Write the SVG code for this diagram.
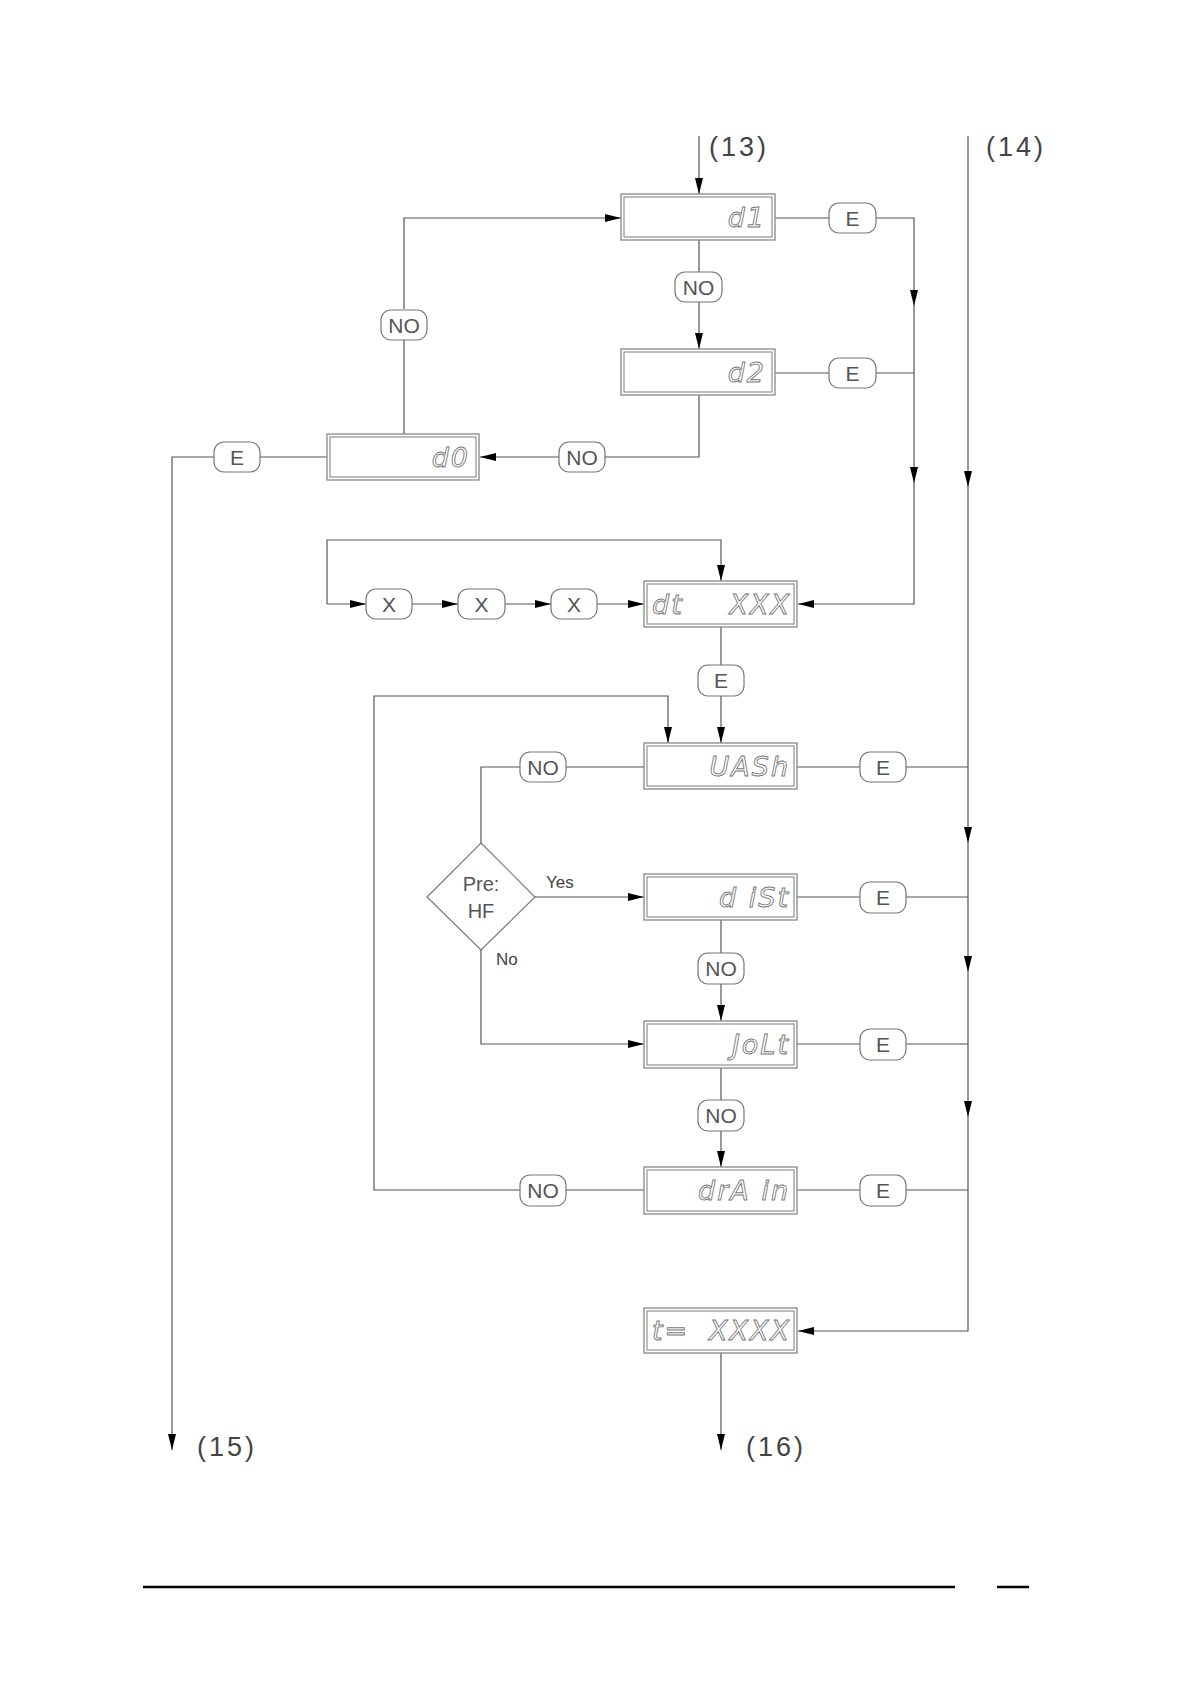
<svg xmlns="http://www.w3.org/2000/svg" width="1190" height="1684" viewBox="0 0 1190 1684">
<style>
.bg{fill:#fff}
.c{fill:none;stroke:#555;stroke-width:1.2}
.bo{fill:#fff;stroke:#888;stroke-width:1.3}
.bi{fill:none;stroke:#888;stroke-width:1.1}
.lb{fill:#fff;stroke:#777;stroke-width:1.2}
.lt{font-family:"Liberation Sans",Arial,sans-serif;font-size:21px;fill:#555;text-anchor:middle}
.seg{font-family:"DejaVu Sans","Liberation Sans",sans-serif;font-size:27px;font-style:italic;fill:#fff;stroke:#777;stroke-width:0.9;white-space:pre;letter-spacing:2px}
.ref{font-family:"Liberation Sans",Arial,sans-serif;font-size:27px;fill:#444;letter-spacing:3px;text-anchor:middle}
.dt{font-family:"Liberation Sans",Arial,sans-serif;font-size:20px;fill:#555;text-anchor:middle}
.sm{font-family:"Liberation Sans",Arial,sans-serif;font-size:17px;fill:#444}
</style>
<defs>
<marker id="ar" markerUnits="userSpaceOnUse" markerWidth="17" markerHeight="9" refX="16" refY="4" orient="auto">
<path d="M0,0 L16,4 L0,8 z" fill="#000"/>
</marker>
</defs>
<rect class="bg" x="0" y="0" width="1190" height="1684"/>

<g id="connectors">
<path class="c" d="M699 136 V194" marker-end="url(#ar)"/>
<path class="c" d="M699 240 V272"/>
<path class="c" d="M699 302 V349" marker-end="url(#ar)"/>
<path class="c" d="M775 218 H829"/>
<path class="c" d="M876 218 H914 V306" marker-end="url(#ar)"/>
<path class="c" d="M914 306 V483" marker-end="url(#ar)"/>
<path class="c" d="M914 483 V604 H798" marker-end="url(#ar)"/>
<path class="c" d="M775 373 H829"/>
<path class="c" d="M876 373 H914"/>
<path class="c" d="M699 395 V457 H605"/>
<path class="c" d="M559 457 H480" marker-end="url(#ar)"/>
<path class="c" d="M404 434 V340"/>
<path class="c" d="M404 309 V218 H621" marker-end="url(#ar)"/>
<path class="c" d="M327 457 H260"/>
<path class="c" d="M214 457 H172 V1450" marker-end="url(#ar)"/>
<path class="c" d="M968 136 V487" marker-end="url(#ar)"/>
<path class="c" d="M968 487 V843" marker-end="url(#ar)"/>
<path class="c" d="M968 843 V972" marker-end="url(#ar)"/>
<path class="c" d="M968 972 V1117" marker-end="url(#ar)"/>
<path class="c" d="M968 1117 V1331 H798" marker-end="url(#ar)"/>
<path class="c" d="M327 604 V540 H721 V581" marker-end="url(#ar)"/>
<path class="c" d="M327 604 H366" marker-end="url(#ar)"/>
<path class="c" d="M412 604 H458" marker-end="url(#ar)"/>
<path class="c" d="M505 604 H551" marker-end="url(#ar)"/>
<path class="c" d="M597 604 H644" marker-end="url(#ar)"/>
<path class="c" d="M721 627 V665"/>
<path class="c" d="M721 696 V743" marker-end="url(#ar)"/>
<path class="c" d="M644 1190 H566"/>
<path class="c" d="M520 1190 H374 V696 H668 V743" marker-end="url(#ar)"/>
<path class="c" d="M797 767 H860"/>
<path class="c" d="M906 767 H968"/>
<path class="c" d="M644 767 H566"/>
<path class="c" d="M520 767 H481 V843"/>
<path class="c" d="M535 897 H644" marker-end="url(#ar)"/>
<path class="c" d="M481 950 V1044 H644" marker-end="url(#ar)"/>
<path class="c" d="M797 897 H860"/>
<path class="c" d="M906 897 H968"/>
<path class="c" d="M721 920 V953"/>
<path class="c" d="M721 984 V1021" marker-end="url(#ar)"/>
<path class="c" d="M797 1044 H860"/>
<path class="c" d="M906 1044 H968"/>
<path class="c" d="M721 1068 V1100"/>
<path class="c" d="M721 1131 V1167" marker-end="url(#ar)"/>
<path class="c" d="M797 1190 H860"/>
<path class="c" d="M906 1190 H968"/>
<path class="c" d="M721 1353 V1450" marker-end="url(#ar)"/>
</g>

<g id="ref13"><text class="ref" x="739" y="156">(13)</text></g>
<g id="ref14"><text class="ref" x="1016" y="156">(14)</text></g>
<g id="ref15"><text class="ref" x="227" y="1456">(15)</text></g>
<g id="ref16"><text class="ref" x="776" y="1456">(16)</text></g>

<g id="d1"><rect class="bo" x="621" y="194" width="154" height="46"/><rect class="bi" x="624" y="197" width="148" height="40"/><text class="seg" x="766" y="227" text-anchor="end">d1</text></g>
<g id="d2"><rect class="bo" x="621" y="349" width="154" height="46"/><rect class="bi" x="624" y="352" width="148" height="40"/><text class="seg" x="766" y="382" text-anchor="end">d2</text></g>
<g id="d0"><rect class="bo" x="327" y="434" width="152" height="46"/><rect class="bi" x="330" y="437" width="146" height="40"/><text class="seg" x="470" y="467" text-anchor="end">d0</text></g>
<g id="dt"><rect class="bo" x="644" y="581" width="153" height="46"/><rect class="bi" x="647" y="584" width="147" height="40"/><text class="seg" x="652" y="614">dt</text><text class="seg" x="791" y="614" text-anchor="end">XXX</text></g>
<g id="wash"><rect class="bo" x="644" y="743" width="153" height="46"/><rect class="bi" x="647" y="746" width="147" height="40"/><text class="seg" x="790" y="776" text-anchor="end">UASh</text></g>
<g id="dist"><rect class="bo" x="644" y="874" width="153" height="46"/><rect class="bi" x="647" y="877" width="147" height="40"/><text class="seg" x="790" y="907" text-anchor="end">d iSt</text></g>
<g id="jolt"><rect class="bo" x="644" y="1021" width="153" height="47"/><rect class="bi" x="647" y="1024" width="147" height="41"/><text class="seg" x="790" y="1054" text-anchor="end">JoLt</text></g>
<g id="drain"><rect class="bo" x="644" y="1167" width="153" height="47"/><rect class="bi" x="647" y="1170" width="147" height="41"/><text class="seg" x="790" y="1200" text-anchor="end">drA in</text></g>
<g id="tbox"><rect class="bo" x="644" y="1308" width="153" height="45"/><rect class="bi" x="647" y="1311" width="147" height="39"/><text class="seg" x="652" y="1340">t=</text><text class="seg" x="791" y="1340" text-anchor="end">XXXX</text></g>

<g id="pre-hf"><path class="lb" d="M481 843 L535 897 L481 950 L427 897 Z"/><text class="dt" x="481" y="891">Pre:</text><text class="dt" x="481" y="918">HF</text></g>
<g id="yes"><text class="sm" x="546" y="888">Yes</text></g>
<g id="no"><text class="sm" x="496" y="965">No</text></g>

<g id="e-d1"><rect class="lb" x="829" y="203" width="47" height="30" rx="10"/><text class="lt" x="852.5" y="226">E</text></g>
<g id="e-d2"><rect class="lb" x="829" y="358" width="47" height="30" rx="10"/><text class="lt" x="852.5" y="381">E</text></g>
<g id="no-d1"><rect class="lb" x="675" y="272" width="47" height="30" rx="10"/><text class="lt" x="698.5" y="295">NO</text></g>
<g id="no-d2"><rect class="lb" x="559" y="442" width="46" height="30" rx="10"/><text class="lt" x="582" y="465">NO</text></g>
<g id="no-d0"><rect class="lb" x="381" y="310" width="46" height="30" rx="10"/><text class="lt" x="404" y="333">NO</text></g>
<g id="e-d0"><rect class="lb" x="214" y="442" width="46" height="30" rx="10"/><text class="lt" x="237" y="465">E</text></g>
<g id="x1"><rect class="lb" x="366" y="589" width="46" height="30" rx="10"/><text class="lt" x="389" y="612">X</text></g>
<g id="x2"><rect class="lb" x="458" y="589" width="47" height="30" rx="10"/><text class="lt" x="481.5" y="612">X</text></g>
<g id="x3"><rect class="lb" x="551" y="589" width="46" height="30" rx="10"/><text class="lt" x="574" y="612">X</text></g>
<g id="e-dt"><rect class="lb" x="698" y="665" width="46" height="31" rx="10"/><text class="lt" x="721" y="688">E</text></g>
<g id="e-wash"><rect class="lb" x="860" y="752" width="46" height="30" rx="10"/><text class="lt" x="883" y="775">E</text></g>
<g id="no-wash"><rect class="lb" x="520" y="752" width="46" height="30" rx="10"/><text class="lt" x="543" y="775">NO</text></g>
<g id="e-dist"><rect class="lb" x="860" y="882" width="46" height="31" rx="10"/><text class="lt" x="883" y="905">E</text></g>
<g id="no-dist"><rect class="lb" x="698" y="953" width="46" height="31" rx="10"/><text class="lt" x="721" y="976">NO</text></g>
<g id="e-jolt"><rect class="lb" x="860" y="1029" width="46" height="31" rx="10"/><text class="lt" x="883" y="1052">E</text></g>
<g id="no-jolt"><rect class="lb" x="698" y="1100" width="46" height="31" rx="10"/><text class="lt" x="721" y="1123">NO</text></g>
<g id="e-drain"><rect class="lb" x="860" y="1175" width="46" height="31" rx="10"/><text class="lt" x="883" y="1198">E</text></g>
<g id="no-drain"><rect class="lb" x="520" y="1175" width="46" height="31" rx="10"/><text class="lt" x="543" y="1198">NO</text></g>

<g id="footer">
<line x1="143" y1="1587" x2="955" y2="1587" stroke="#000" stroke-width="2.5"/>
<line x1="997" y1="1587" x2="1029" y2="1587" stroke="#000" stroke-width="2.5"/>
</g>
</svg>
